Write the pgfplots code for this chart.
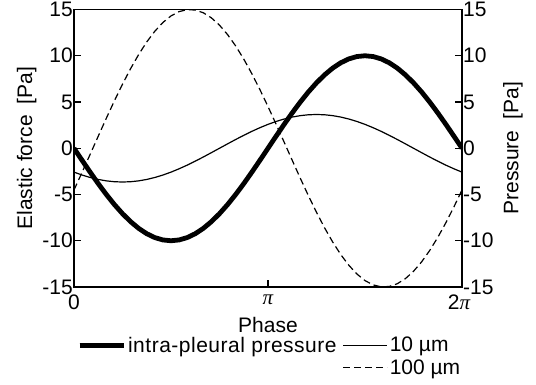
\documentclass[border=0pt]{standalone}
\usepackage{fontspec}
\setmainfont{Liberation Sans}
\newfontfamily\legfont[LetterSpace=2.4]{Liberation Sans}
\newfontfamily\pifont{Liberation Serif}
\usepackage{pgfplots}
\pgfplotsset{compat=1.18}
\usepackage{pgfplotstable}
\pgfplotstableread{
x thick thin dashed
0.0000 0.000 -2.581 -4.511
0.1309 -1.305 -2.896 -2.605
0.2618 -2.588 -3.161 -0.654
0.3927 -3.827 -3.372 1.307
0.5236 -5.000 -3.526 3.247
0.6545 -6.088 -3.619 5.130
0.7854 -7.071 -3.650 6.926
0.9163 -7.934 -3.619 8.604
1.0472 -8.660 -3.526 10.134
1.1781 -9.239 -3.372 11.491
1.3090 -9.659 -3.161 12.651
1.4399 -9.914 -2.896 13.595
1.5708 -10.000 -2.581 14.306
1.7017 -9.914 -2.222 14.772
1.8326 -9.659 -1.825 14.986
1.9635 -9.239 -1.397 14.943
2.0944 -8.660 -0.945 14.645
2.2253 -7.934 -0.476 14.095
2.3562 -7.071 0.000 13.305
2.4871 -6.088 0.476 12.287
2.6180 -5.000 0.945 11.059
2.7489 -3.827 1.397 9.642
2.8798 -2.588 1.825 8.060
3.0107 -1.305 2.222 6.339
3.1416 0.000 2.581 4.511
3.2725 1.305 2.896 2.605
3.4034 2.588 3.161 0.654
3.5343 3.827 3.372 -1.307
3.6652 5.000 3.526 -3.247
3.7961 6.088 3.619 -5.130
3.9270 7.071 3.650 -6.926
4.0579 7.934 3.619 -8.604
4.1888 8.660 3.526 -10.134
4.3197 9.239 3.372 -11.491
4.4506 9.659 3.161 -12.651
4.5815 9.914 2.896 -13.595
4.7124 10.000 2.581 -14.306
4.8433 9.914 2.222 -14.772
4.9742 9.659 1.825 -14.986
5.1051 9.239 1.397 -14.943
5.2360 8.660 0.945 -14.645
5.3669 7.934 0.476 -14.095
5.4978 7.071 0.000 -13.305
5.6287 6.088 -0.476 -12.287
5.7596 5.000 -0.945 -11.059
5.8905 3.827 -1.397 -9.642
6.0214 2.588 -1.825 -8.060
6.1523 1.305 -2.222 -6.339
6.2832 0.000 -2.581 -4.511
}\data
\begin{document}
\begin{tikzpicture}[font=\fontsize{21bp}{25bp}\selectfont]
\path[use as bounding box] (0,0) rectangle (536bp,385bp);
\begin{axis}[
  at={(74bp,98bp)}, anchor=south west,
  scale only axis, width=388bp, height=277.5bp,
  xmin=0, xmax=6.2832, ymin=-15, ymax=15,
  xtick={0,3.1416,6.2832},
  xticklabels={0,{\pifont\itshape π},{\hspace*{-6bp}2\pifont\itshape π}},
  ytick={-15,-10,...,15},
  xtick pos=bottom, ytick pos=left, tick align=inside,
  major tick length=7bp,
  axis line style={line width=1.2bp},
  every tick/.style={line width=1.2bp, black},
  yticklabel style={/pgf/number format/assume math mode=true, inner xsep=1bp, inner ysep=0bp},
  xticklabel style={inner sep=0bp, yshift=-8bp},
  xlabel={Phase},
  xlabel style={at={(axis description cs:0.5,-0.137)}, anchor=center},
  ylabel={Elastic force\hspace{0.25em} [Pa]},
  ylabel style={at={(axis description cs:-0.122,0.5)}, anchor=center},
  legend style={draw=none, fill=none, at={(axis description cs:0.008,-0.172)}, anchor=north west,
    /tikz/every even column/.append style={column sep=4bp}, inner sep=0pt, row sep=2bp},
  legend columns=2, legend cell align=left,
  legend image code/.code={\draw[#1] (0bp,0bp) -- (37bp,0bp); \path (0bp,0bp) -- (44bp,0bp);},
]
\addplot[black, line width=4.8bp] table[x=x, y=thick] {\data};
\addlegendentry{\legfont intra-pleural pressure}
\addplot[black, line width=1.2bp] table[x=x, y=thin] {\data};
\addlegendentry{10 µm}
\addlegendimage{empty legend}
\addlegendentry{}
\addplot[black, line width=1.2bp, dash pattern=on 7bp off 4bp] table[x=x, y=dashed] {\data};
\addlegendentry{100 µm}
\end{axis}
\begin{axis}[
  at={(74bp,98bp)}, anchor=south west,
  scale only axis, width=388bp, height=277.5bp,
  xmin=0, xmax=6.2832, ymin=-15, ymax=15,
  axis x line=none, axis y line*=right,
  ytick={-15,-10,...,15}, tick align=inside,
  major tick length=7bp,
  axis line style={line width=1.2bp},
  every tick/.style={line width=1.2bp, black},
  yticklabel style={/pgf/number format/assume math mode=true, inner xsep=1bp, inner ysep=0bp},
  ylabel={Pressure\hspace{0.25em} [Pa]},
  ylabel style={at={(axis description cs:1.131,0.5)}, anchor=center},
]
\end{axis}
\end{tikzpicture}
\end{document}
